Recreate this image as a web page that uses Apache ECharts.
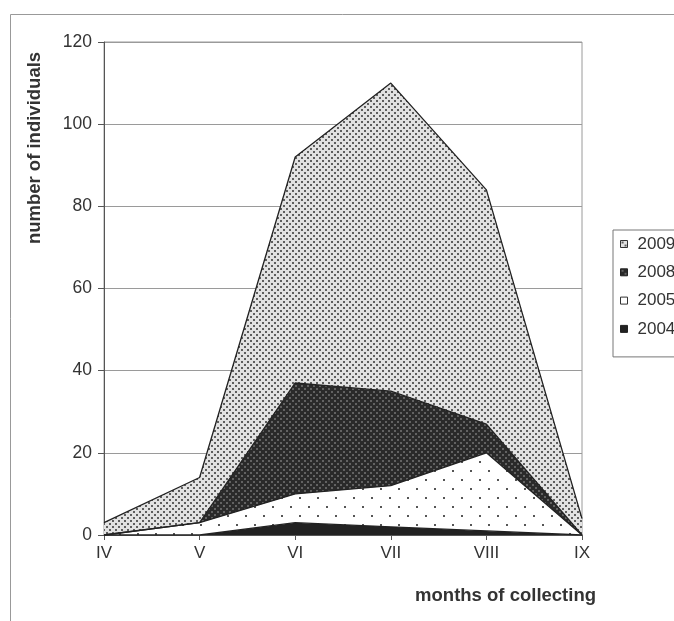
<!DOCTYPE html>
<html>
<head>
<meta charset="utf-8">
<script src="https://cdn.jsdelivr.net/npm/echarts@6/dist/echarts.min.js"></script>
<style>
html,body{margin:0;padding:0;background:#fff;}
#c{width:674px;height:621px;}
</style>
</head>
<body>
<div id="c"></div>
<script>
var months = ['IV','V','VI','VII','VIII','IX'];
var y2004 = [0, 0, 3, 2, 1, 0];
var y2005 = [0, 3, 7, 10, 19, 0];
var y2008 = [0, 0, 27, 23, 7, 0];
var y2009 = [3, 11, 55, 75, 57, 4];
var yTicks = [0, 20, 40, 60, 80, 100, 120];

function makePattern(w, h, bg, dot, pts, s) {
  var c = document.createElement('canvas');
  c.width = w; c.height = h;
  var ctx = c.getContext('2d');
  ctx.fillStyle = bg; ctx.fillRect(0, 0, w, h);
  ctx.fillStyle = dot;
  pts.forEach(function (p) { ctx.fillRect(p[0], p[1], s, s); });
  return { image: c, repeat: 'repeat' };
}
var p2009 = makePattern(6, 6, '#e2e2e2', '#5e5e5e', [[1,1],[4,4]], 2);
var p2008 = makePattern(6, 6, '#2a2a2a', '#626262', [[1,1],[4,4]], 2);
var p2005 = makePattern(18, 18, '#ffffff', '#555555', [[2,2],[11,11]], 2);
var c2004 = '#222222';

var chart = echarts.init(document.getElementById('c'), null, {renderer: 'canvas'});
function ser(name, data, fill) {
  return {
    name: name, type: 'line', stack: 'all', data: data,
    symbol: 'none', smooth: false,
    lineStyle: {color: '#222', width: 1.3},
    itemStyle: {color: '#222'},
    areaStyle: {color: fill, opacity: 1}
  };
}
chart.setOption({
  animation: false,
  backgroundColor: '#ffffff',
  textStyle: {fontFamily: 'Liberation Sans, Arial, sans-serif'},
  grid: {left: 104, right: 92, top: 42, bottom: 86, show: true, borderColor: '#9a9a9a', borderWidth: 1, backgroundColor: 'transparent'},
  xAxis: {
    type: 'category', data: months, boundaryGap: false,
    axisLine: {lineStyle: {color: '#555', width: 1}},
    axisTick: {show: true, length: 5, lineStyle: {color: '#555'}},
    axisLabel: {color: '#333', fontSize: 17, margin: 10}
  },
  yAxis: {
    type: 'value', min: 0, max: 120, interval: 20,
    axisLine: {show: true, lineStyle: {color: '#555', width: 1}},
    axisTick: {show: true, length: 6, lineStyle: {color: '#555'}},
    splitLine: {lineStyle: {color: '#9a9a9a', width: 1}},
    axisLabel: {color: '#333', fontSize: 17.5, margin: 12,
      formatter: function (v) { return yTicks.indexOf(v) >= 0 ? String(v) : ''; }}
  },
  legend: {
    orient: 'vertical', left: 613, top: 230,
    data: [
      {name: '2009', itemStyle: {color: p2009, borderColor: '#333', borderWidth: 1}},
      {name: '2008', itemStyle: {color: p2008, borderColor: '#222', borderWidth: 1}},
      {name: '2005', itemStyle: {color: '#fff', borderColor: '#333', borderWidth: 1}},
      {name: '2004', itemStyle: {color: c2004, borderColor: '#222', borderWidth: 1}}
    ],
    icon: 'rect', itemWidth: 7, itemHeight: 7, itemGap: 11.3,
    borderColor: '#777', borderWidth: 1, padding: [5.5, 40, 19.5, 7],
    textStyle: {color: '#333', fontSize: 17, padding: [0, 0, 0, 5]}
  },
  graphic: [
    {type: 'rect', left: 8, top: 12, shape: {width: 700, height: 700}, silent: true, z: -10,
      style: {fill: 'none', stroke: '#999', lineWidth: 1}},
    {type: 'text', x: 35, y: 148, rotation: Math.PI / 2,
      style: {text: 'number of individuals', fill: '#333', font: 'bold 18.5px Liberation Sans, Arial, sans-serif',
        align: 'center', verticalAlign: 'middle'}},
    {type: 'text', x: 596, y: 596,
      style: {text: 'months of collecting', fill: '#333', font: 'bold 18.5px Liberation Sans, Arial, sans-serif',
        align: 'right', verticalAlign: 'middle'}}
  ],
  series: [
    ser('2004', y2004, c2004),
    ser('2005', y2005, p2005),
    ser('2008', y2008, p2008),
    ser('2009', y2009, p2009)
  ]
});
</script>
</body>
</html>
